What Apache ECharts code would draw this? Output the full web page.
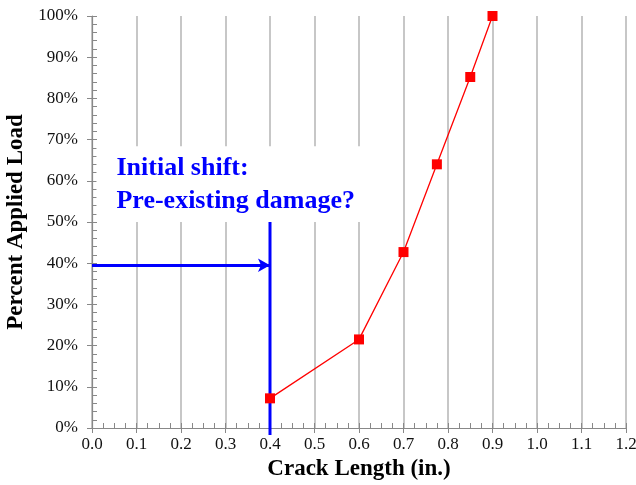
<!DOCTYPE html>
<html>
<head>
<meta charset="utf-8">
<script src="https://cdn.jsdelivr.net/npm/echarts@6/dist/echarts.min.js"></script>
<style>
  html, body { margin: 0; padding: 0; background: #fff; }
  #chart { width: 636px; height: 485px; }
</style>
</head>
<body>
<div id="chart"></div>
<script>
// measured points
var crackLength = [0.4, 0.6, 0.7, 0.775, 0.85, 0.9];
var appliedLoad = [7.2, 21.5, 42.7, 64.0, 85.2, 100];

// annotation: initial shift line and arrow
var shiftX = [0.4, 0.4];
var shiftY = [-1.7, 50];
var arrowY = 39.5;
var noteLines = ['Initial shift:', 'Pre-existing damage?'];

var font = '"Liberation Serif", "Times New Roman", serif';
var axisGray = '#888888';

var chart = echarts.init(document.getElementById('chart'));

var tickOnly = {
    type: 'value', min: 0, show: true,
    axisLine: { show: false },
    axisLabel: { show: false },
    splitLine: { show: false },
    axisTick: { show: true, inside: false, length: 5, lineStyle: { color: axisGray } }
};

var option = {
    animation: false,
    grid: { left: 92, right: 10, top: 16, bottom: 57, containLabel: false, outerBoundsMode: 'none' },
    xAxis: [{
        type: 'value', min: 0, max: 1.2, interval: 0.1,
        name: 'Crack Length (in.)',
        nameLocation: 'middle',
        nameGap: 28,
        nameTextStyle: { fontFamily: font, fontWeight: 'bold', fontSize: 23, color: '#000' },
        axisLine: { lineStyle: { color: axisGray, width: 1.2 } },
        axisTick: { inside: true, length: 5, lineStyle: { color: axisGray } },
        minorTick: { show: true, splitNumber: 4, length: 5, lineStyle: { color: axisGray } },
        axisLabel: {
            fontFamily: font, fontSize: 17, color: '#111', margin: 8,
            formatter: function (v) { return v.toFixed(1); }
        },
        splitLine: { show: true, lineStyle: { color: '#b4b4b4', width: 1.5 } }
    }, Object.assign({}, tickOnly, { max: 1.2, interval: 0.1, position: 'bottom' })],
    yAxis: [{
        type: 'value', min: 0, max: 100, interval: 10,
        name: 'Percent Applied Load',
        nameLocation: 'middle',
        nameGap: 52,
        nameTextStyle: { fontFamily: font, fontWeight: 'bold', fontSize: 23, color: '#000' },
        axisLine: { show: true, lineStyle: { color: axisGray, width: 1.2 } },
        axisTick: { show: true, inside: true, length: 5, lineStyle: { color: axisGray } },
        minorTick: { show: true, splitNumber: 5, length: 5, lineStyle: { color: axisGray } },
        axisLabel: { fontFamily: font, fontSize: 17, color: '#111', margin: 14, formatter: '{value}%' },
        splitLine: { show: false }
    }, Object.assign({}, tickOnly, { max: 100, interval: 10, position: 'left' })],
    series: [
        {
            type: 'line',
            data: [],
            silent: true,
            z: 3,
            markArea: {
                silent: true,
                itemStyle: { color: '#ffffff' },
                label: {
                    show: true,
                    position: 'insideTopLeft',
                    distance: 0,
                    padding: [6, 0, 0, 20],
                    fontFamily: font, fontWeight: 'bold', fontSize: 26,
                    lineHeight: 33, color: '#0000ff',
                    formatter: noteLines.join('\n')
                },
                data: [[{ coord: [0.01, 68.4] }, { coord: [0.62, 50] }]]
            }
        },
        {
            type: 'line',
            data: [[shiftX[0], shiftY[0]], [shiftX[1], shiftY[1]]],
            clip: false,
            symbol: 'none',
            z: 4,
            lineStyle: { color: '#0000ff', width: 3 },
            markLine: {
                silent: true,
                symbol: ['none', 'arrow'],
                symbolSize: [10, 12],
                label: { show: false },
                lineStyle: { color: '#0000ff', width: 3, type: 'solid' },
                data: [[{ coord: [0, arrowY] }, { coord: [shiftX[0], arrowY] }]]
            }
        },
        {
            type: 'line',
            data: crackLength.map(function (x, i) { return [x, appliedLoad[i]]; }),
            clip: false,
            z: 5,
            symbol: 'rect',
            symbolSize: 10,
            itemStyle: { color: '#ff0000' },
            lineStyle: { color: '#ff0000', width: 1.3 }
        }
    ]
};

chart.setOption(option);
</script>
</body>
</html>
